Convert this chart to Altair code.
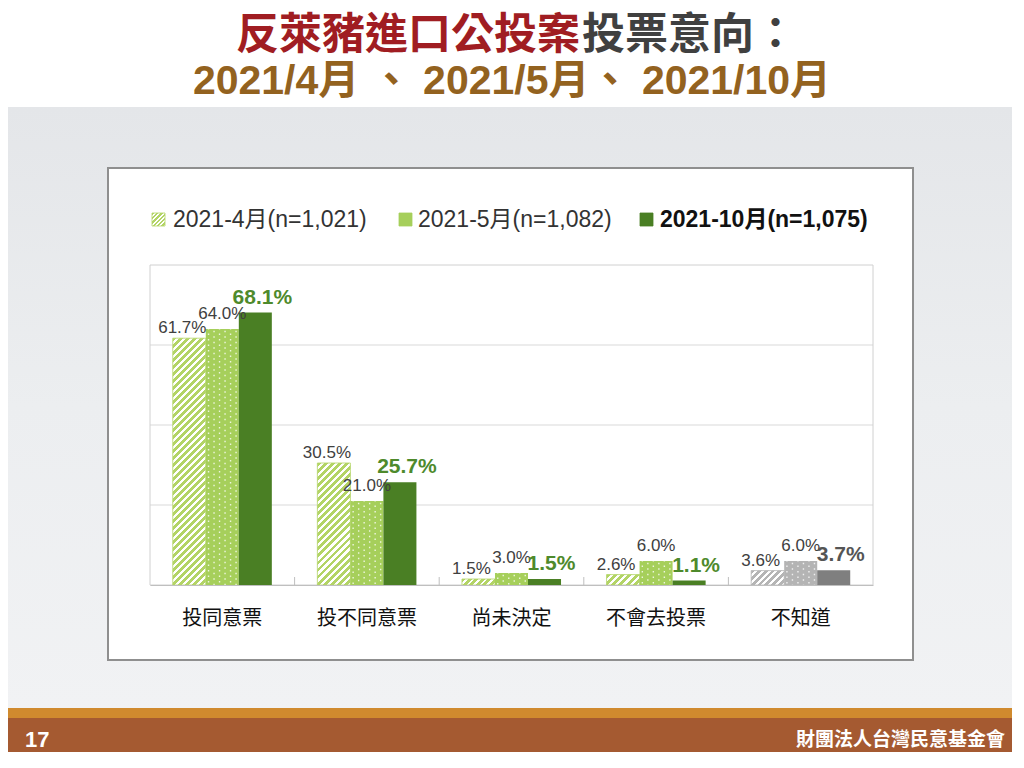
import altair as alt
import pandas as pd

# ---------------- data ----------------
categories = ["投同意票", "投不同意票", "尚未決定", "不會去投票", "不知道"]
series = ["2021-4月(n=1,021)", "2021-5月(n=1,082)", "2021-10月(n=1,075)"]
apr_values = [61.7, 30.5, 1.5, 2.6, 3.6]
may_values = [64.0, 21.0, 3.0, 6.0, 6.0]
oct_values = [68.1, 25.7, 1.5, 1.1, 3.7]
grid_values = [20, 40, 60]
title_red = "反萊豬進口公投案"
title_gray = "投票意向："
title_line2 = "2021/4月 、 2021/5月、 2021/10月"
page_number = "17"
org_name = "財團法人台灣民意基金會"
gray_category = "不知道"

rows = []
for s, vals in zip(series, [apr_values, may_values, oct_values]):
    for c, v in zip(categories, vals):
        rows.append({"cat": c, "series": s, "value": v, "label": f"{v:.1f}%"})
df = pd.DataFrame(rows)
grid_df = pd.DataFrame({"v": grid_values})
bound_df = pd.DataFrame({"cat": categories[1:]})
one = alt.Data(values=[{}])

# ---------------- layout / style ----------------
PW, PH = 723, 320            # plot area
PAD_L, PAD_T = 142, 257
TOTAL_W, TOTAL_H = 1004, 744
PAD_R = TOTAL_W - PAD_L - PW
PAD_B = TOTAL_H - PAD_T - PH
YMAX = 80
P_IN = 0.315
STEP = PW / len(categories)
BAR_W = STEP * (1 - P_IN) / 3

def lx(px):  # page x -> plot-local x
    return px - (PAD_L + 8)

def ly(py):
    return py - (PAD_T + 8)

GREEN_HATCH = "#b3d466"
GRAY_HATCH = "#b5b5b5"
GREEN_DOT = "#a6cf5b"
GRAY_DOT = "#b4b4b4"
GREEN_DARK = "#4a7f24"
GRAY_DARK = "#7f7f7f"
CJK = "Noto Sans CJK TC"
LAT = "Liberation Sans, Noto Sans CJK TC"


def hatch(w, h, color, period=7.0, frac=0.55):
    r = w / h
    b = (1 + r) / (1 + r * r)
    a = r * b
    n = max(1, round((w + h) / period))
    stops = []
    for i in range(n):
        o0 = i / n
        o1 = (i + frac) / n
        o2 = min(1.0, (i + 1) / n)
        stops += [
            alt.GradientStop(offset=o0, color=color),
            alt.GradientStop(offset=o1, color=color),
            alt.GradientStop(offset=o1, color="white"),
            alt.GradientStop(offset=o2, color="white"),
        ]
    return alt.LinearGradient(gradient="linear", stops=stops, x1=0, y1=0, x2=a, y2=b)


xscale = alt.Scale(domain=categories, paddingInner=P_IN, paddingOuter=P_IN / 2)
xaxis = alt.Axis(title=None, labelAngle=0, labelFont=CJK, labelFontSize=20,
                 labelColor="#111111", domainColor="#bfbfbf", ticks=False,
                 labelPadding=23, grid=False, zindex=1)
yscale = alt.Scale(domain=[0, YMAX], nice=False, zero=True)
xo = alt.XOffset("series:N", sort=series,
                 scale=alt.Scale(domain=series, paddingInner=0, paddingOuter=0))
X = alt.X("cat:N", sort=categories, scale=xscale, axis=xaxis)
Y = alt.Y("value:Q", scale=yscale, axis=None)

layers = []

# ---------------- slide decoration ----------------
bg_grad = alt.LinearGradient(gradient="linear", x1=0, y1=0, x2=0, y2=1, stops=[
    alt.GradientStop(offset=0, color="#e4e6e9"),
    alt.GradientStop(offset=0.5, color="#eceef0"),
    alt.GradientStop(offset=1, color="#f1f2f4")])


def rect(x1, x2, y1, y2, **kw):
    return alt.Chart(one).mark_rect(**kw).encode(
        x=alt.value(lx(x1)), x2=alt.value(lx(x2)), y=alt.value(ly(y1)), y2=alt.value(ly(y2)))


def text(s, px, py, **kw):
    return alt.Chart(one).mark_text(text=s, **kw).encode(x=alt.value(lx(px)), y=alt.value(ly(py)))


layers.append(rect(8, 1012, 107, 708, fill=bg_grad))
layers.append(rect(8, 1012, 708, 718, color="#d08a2e"))
layers.append(rect(8, 1012, 718, 752, color="#a55a31"))
layers.append(rect(108, 913, 168, 660, fill="white", stroke="#8f8f8f", strokeWidth=2))

layers.append(text(title_red, 580, 36, align="right", baseline="middle", font=CJK,
                   fontSize=43, fontWeight="bold", color="#a01d22"))
layers.append(text(title_gray, 582, 36, align="left", baseline="middle", font=CJK,
                   fontSize=43, fontWeight="bold", color="#404040"))
layers.append(text(title_line2, 512, 82, align="center", baseline="middle", font=LAT,
                   fontSize=41, fontWeight="bold", color="#93621f"))
layers.append(text(page_number, 25, 740, align="left", baseline="middle", font=LAT,
                   fontSize=22, fontWeight="bold", color="white"))
layers.append(text(org_name, 1005, 740, align="right", baseline="middle", font=CJK,
                   fontSize=19, fontWeight="bold", color="white"))

# ---------------- legend ----------------
leg_y = 220
legend_items = [
    (152, 173, hatch(14, 14, GREEN_HATCH, period=5), GREEN_HATCH, "normal", "#333333"),
    (399, 418, GREEN_DOT, GREEN_DOT, "normal", "#333333"),
    (640, 660, GREEN_DARK, GREEN_DARK, "bold", "#111111"),
]
for (sx, tx, fill, stroke, fw, tc), name in zip(legend_items, series):
    layers.append(rect(sx, sx + 13, leg_y - 7, leg_y + 6, fill=fill, stroke=stroke, strokeWidth=0.8))
    layers.append(text(name, tx, leg_y, align="left", baseline="middle", font=LAT,
                       fontSize=23, fontWeight=fw, color=tc))

# ---------------- plot frame / grid ----------------
layers.append(alt.Chart(grid_df).mark_rule(color="#d9d9d9", strokeWidth=1).encode(
    y=alt.Y("v:Q", scale=yscale, axis=None)))
layers.append(alt.Chart(one).mark_rect(fillOpacity=0, stroke="#d0d0d0", strokeWidth=1).encode(
    x=alt.value(0), x2=alt.value(PW), y=alt.value(0), y2=alt.value(PH)))
layers.append(alt.Chart(bound_df).mark_rule(color="#bfbfbf", strokeWidth=1, xOffset=-STEP / 2).encode(
    x=X, y=alt.value(PH - 8), y2=alt.value(PH)))

# ---------------- bars ----------------
for c, v in zip(categories, apr_values):
    col = GRAY_HATCH if c == gray_category else GREEN_HATCH
    h = v / YMAX * PH
    layers.append(
        alt.Chart(df).transform_filter((alt.datum.series == series[0]) & (alt.datum.cat == c))
        .mark_bar(fill=hatch(BAR_W, h, col), stroke=col, strokeWidth=0.8)
        .encode(x=X, xOffset=xo, y=Y))

is_gray = alt.datum.cat == gray_category
layers.append(
    alt.Chart(df).transform_filter(alt.datum.series == series[1]).mark_bar()
    .encode(x=X, xOffset=xo, y=Y,
            color=alt.condition(is_gray, alt.value(GRAY_DOT), alt.value(GREEN_DOT))))
# white dot pattern on the May bars (middle third of each category band)
NCOL = 6
for k in range(NCOL):
    bp = (1 + (k + 0.5) / NCOL) / 3
    layers.append(
        alt.Chart(df).transform_filter(alt.datum.series == series[1])
        .mark_rule(color="white", strokeWidth=1.4, opacity=0.8, strokeDash=[1.4, 4.1],
                   strokeDashOffset=(k % 2) * 2.75 + 1)
        .encode(x=alt.X("cat:N", sort=categories, scale=xscale, axis=xaxis, bandPosition=bp),
                y=Y, y2=alt.datum(0)))
layers.append(
    alt.Chart(df).transform_filter(alt.datum.series == series[2]).mark_bar()
    .encode(x=X, xOffset=xo, y=Y,
            color=alt.condition(is_gray, alt.value(GRAY_DARK), alt.value(GREEN_DARK))))

# ---------------- value labels ----------------
for s, dx, dy in [(series[0], -7, -5), (series[1], 0, -10)]:
    layers.append(
        alt.Chart(df).transform_filter(alt.datum.series == s)
        .mark_text(font=LAT, fontSize=17, color="#404040", baseline="alphabetic", dy=dy, dx=dx)
        .encode(x=X, xOffset=xo, y=Y, text="label:N"))
layers.append(
    alt.Chart(df).transform_filter(alt.datum.series == series[2])
    .mark_text(font=LAT, fontSize=21, fontWeight="bold", baseline="alphabetic", dy=-9, dx=7)
    .encode(x=X, xOffset=xo, y=Y, text="label:N",
            color=alt.condition(is_gray, alt.value("#555555"), alt.value("#4e8a2c"))))

chart = alt.layer(*layers).properties(
    width=PW, height=PH,
    autosize=alt.AutoSizeParams(type="none"),
    padding={"left": PAD_L, "top": PAD_T, "right": PAD_R, "bottom": PAD_B},
    background="white",
).configure_view(strokeWidth=0)

chart.save("out.html", embed_options={"renderer": "svg", "actions": False})
